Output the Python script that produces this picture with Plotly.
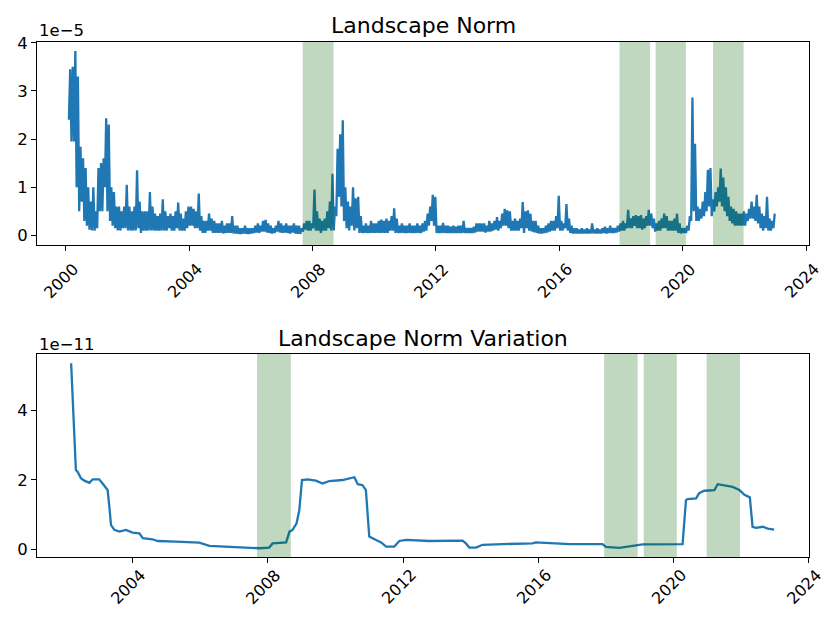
import plotly.graph_objects as go

# Landscape norm: monthly low / high envelope of the daily series, in units of 1e-5.
# First entry is Feb 2000, one entry per month up to Dec 2022.
NORM_START_YEAR = 2000
NORM_START_MONTH = 2
NORM_SCALE = 1e-5

NORM_LOW = [
    2.4, 1.95, 1.95, 1.0, 0.5, 0.7, 0.3, 0.2, 0.12, 0.1, 0.1,                  # 2000
    0.15, 0.5, 0.5, 1.0, 0.5, 0.3, 0.2, 0.15, 0.1, 0.1, 0.15, 0.15,            # 2001
    0.1, 0.1, 0.1, 0.1, 0.15, 0.05, 0.1, 0.1, 0.1, 0.1, 0.1, 0.1,              # 2002
    0.1, 0.1, 0.1, 0.1, 0.15, 0.1, 0.1, 0.15, 0.1, 0.1, 0.1, 0.15,             # 2003
    0.2, 0.2, 0.15, 0.15, 0.1, 0.05, 0.05, 0.1, 0.1, 0.05, 0.05, 0.05,         # 2004
    0.05, 0.04, 0.05, 0.05, 0.05, 0.04, 0.04, 0.03, 0.03, 0.04, 0.03, 0.03,    # 2005
    0.04, 0.05, 0.06, 0.05, 0.08, 0.08, 0.06, 0.05, 0.04, 0.05, 0.08, 0.06,    # 2006
    0.05, 0.06, 0.05, 0.04, 0.06, 0.04, 0.03, 0.03, 0.08, 0.12, 0.1, 0.1,      # 2007
    0.15, 0.1, 0.1, 0.05, 0.1, 0.1, 0.15, 0.1, 0.1, 0.4, 0.8, 0.6,             # 2008
    0.3, 0.15, 0.1, 0.2, 0.1, 0.15, 0.05, 0.05, 0.05, 0.05, 0.05, 0.05,        # 2009
    0.05, 0.05, 0.05, 0.05, 0.05, 0.05, 0.1, 0.1, 0.05, 0.05, 0.05, 0.05,      # 2010
    0.05, 0.05, 0.05, 0.05, 0.05, 0.05, 0.05, 0.08, 0.1, 0.2, 0.3, 0.2,        # 2011
    0.05, 0.05, 0.05, 0.05, 0.05, 0.05, 0.05, 0.05, 0.05, 0.05, 0.05, 0.05,    # 2012
    0.05, 0.05, 0.05, 0.06, 0.08, 0.08, 0.08, 0.06, 0.08, 0.08, 0.1, 0.12,     # 2013
    0.1, 0.15, 0.2, 0.2, 0.15, 0.1, 0.1, 0.1, 0.1, 0.15, 0.05, 0.15,           # 2014
    0.1, 0.08, 0.06, 0.05, 0.04, 0.04, 0.05, 0.06, 0.08, 0.1, 0.1, 0.15,       # 2015
    0.1, 0.1, 0.15, 0.1, 0.05, 0.04, 0.04, 0.04, 0.04, 0.04, 0.04, 0.04,       # 2016
    0.04, 0.04, 0.04, 0.04, 0.04, 0.05, 0.04, 0.05, 0.05, 0.05, 0.06, 0.08,    # 2017
    0.1, 0.1, 0.15, 0.15, 0.15, 0.2, 0.15, 0.15, 0.12, 0.15, 0.2, 0.2,         # 2018
    0.15, 0.08, 0.1, 0.1, 0.15, 0.15, 0.1, 0.1, 0.1, 0.1, 0.05, 0.04,          # 2019
    0.05, 0.05, 0.1, 0.3, 0.5, 0.3, 0.3, 0.35, 0.4, 0.5, 0.6, 0.4,             # 2020
    0.5, 0.6, 0.7, 0.6, 0.5, 0.4, 0.3, 0.25, 0.2, 0.2, 0.2, 0.2,               # 2021
    0.2, 0.3, 0.35, 0.35, 0.3, 0.25, 0.15, 0.1, 0.15, 0.1, 0.1, 0.15,          # 2022
]

NORM_HIGH = [
    3.45, 3.5, 3.83, 3.3, 1.84, 1.6, 1.4, 1.0, 0.7, 1.0, 0.5,                  # 2000
    1.4, 1.5, 1.6, 2.43, 2.3, 1.0, 0.9, 0.6, 0.6, 0.5, 0.6, 1.05,              # 2001
    0.6, 0.5, 0.6, 1.35, 0.7, 0.5, 0.5, 0.5, 0.9, 0.6, 0.45, 0.4,              # 2002
    0.45, 0.75, 0.5, 0.4, 0.45, 0.4, 0.5, 0.68, 0.45, 0.35, 0.5, 0.6,          # 2003
    0.6, 0.55, 0.5, 0.87, 0.4, 0.3, 0.3, 0.45, 0.35, 0.3, 0.25, 0.25,          # 2004
    0.3, 0.2, 0.25, 0.25, 0.4, 0.2, 0.2, 0.15, 0.15, 0.2, 0.15, 0.15,          # 2005
    0.15, 0.2, 0.25, 0.2, 0.3, 0.32, 0.25, 0.2, 0.15, 0.2, 0.3, 0.25,          # 2006
    0.2, 0.25, 0.2, 0.2, 0.25, 0.2, 0.2, 0.15, 0.25, 0.3, 0.3, 0.25,           # 2007
    0.95, 0.5, 0.35, 0.3, 0.35, 0.5, 0.7, 1.28, 0.6, 1.8, 2.1, 2.39,           # 2008
    1.0, 0.7, 0.6, 1.0, 0.77, 0.8, 0.4, 0.2, 0.25, 0.2, 0.3, 0.25,             # 2009
    0.25, 0.3, 0.33, 0.3, 0.35, 0.3, 0.4, 0.56, 0.35, 0.2, 0.25, 0.2,          # 2010
    0.2, 0.25, 0.2, 0.2, 0.25, 0.2, 0.25, 0.3, 0.45, 0.6, 0.84, 0.8,           # 2011
    0.2, 0.2, 0.26, 0.2, 0.2, 0.18, 0.2, 0.18, 0.2, 0.2, 0.3, 0.15,            # 2012
    0.15, 0.15, 0.18, 0.25, 0.25, 0.25, 0.25, 0.2, 0.3, 0.25, 0.3, 0.38,       # 2013
    0.3, 0.45, 0.55, 0.52, 0.5, 0.3, 0.35, 0.3, 0.35, 0.69, 0.5, 0.52,         # 2014
    0.45, 0.3, 0.3, 0.2, 0.15, 0.15, 0.2, 0.25, 0.3, 0.3, 0.4, 0.82,           # 2015
    0.3, 0.25, 0.65, 0.35, 0.2, 0.15, 0.15, 0.12, 0.15, 0.12, 0.15, 0.12,      # 2016
    0.25, 0.12, 0.15, 0.12, 0.15, 0.18, 0.15, 0.2, 0.15, 0.15, 0.2, 0.25,      # 2017
    0.3, 0.25, 0.53, 0.35, 0.4, 0.42, 0.4, 0.42, 0.35, 0.4, 0.53, 0.45,        # 2018
    0.35, 0.25, 0.3, 0.35, 0.45, 0.4, 0.3, 0.3, 0.35, 0.45, 0.25, 0.15,        # 2019
    0.15, 0.2, 0.4, 2.86, 1.9, 0.6, 0.55, 0.7, 0.9, 1.36, 1.4, 0.75,           # 2020
    0.9, 1.0, 1.39, 1.2, 1.0, 0.8, 0.6, 0.55, 0.5, 0.45, 0.45, 0.5,            # 2021
    0.45, 0.55, 0.7, 0.6, 0.84, 0.6, 0.45, 0.4, 0.8, 0.35, 0.3, 0.45,          # 2022
]

# Landscape norm variation (decimal year, value in units of 1e-11)
VAR_SCALE = 1e-11
VAR_YEARS = [
    2002.18, 2002.21, 2002.27, 2002.32, 2002.37, 2002.42, 2002.47, 2002.57,
    2002.72, 2002.82, 2003.01, 2003.11, 2003.26, 2003.31, 2003.36, 2003.46,
    2003.61, 2003.80, 2003.90, 2004.00, 2004.20, 2004.30, 2004.59, 2004.74,
    2005.28, 2005.78, 2005.97, 2006.27, 2006.76, 2007.25, 2007.75, 2008.04,
    2008.14, 2008.54, 2008.64, 2008.73, 2008.85, 2008.93, 2009.01, 2009.18,
    2009.42, 2009.62, 2009.82, 2010.21, 2010.56, 2010.66, 2010.80, 2010.90,
    2011.00, 2011.20, 2011.35, 2011.50, 2011.74, 2011.89, 2012.09, 2012.78,
    2013.76, 2013.86, 2013.96, 2014.16, 2014.35, 2014.95, 2015.83, 2015.93,
    2016.13, 2016.92, 2017.90, 2018.00, 2018.40, 2018.89, 2019.09, 2020.27,
    2020.37, 2020.42, 2020.67, 2020.76, 2020.91, 2021.21, 2021.31, 2021.75,
    2021.95, 2022.10, 2022.26, 2022.34, 2022.44, 2022.64, 2022.79, 2022.98,
]
VAR_VALUES = [
    5.37, 4.69, 3.35, 2.29, 2.24, 2.15, 2.05, 1.98,
    1.92, 2.02, 2.02, 1.90, 1.71, 1.23, 0.70, 0.56,
    0.51, 0.56, 0.51, 0.48, 0.46, 0.32, 0.29, 0.24,
    0.22, 0.20, 0.19, 0.10, 0.07, 0.05, 0.03, 0.05,
    0.17, 0.20, 0.51, 0.56, 0.75, 1.13, 2.00, 2.02,
    1.98, 1.90, 1.97, 2.00, 2.08, 1.88, 1.85, 1.71,
    0.37, 0.27, 0.20, 0.08, 0.08, 0.24, 0.27, 0.24,
    0.25, 0.17, 0.05, 0.05, 0.13, 0.15, 0.17, 0.20,
    0.19, 0.15, 0.15, 0.07, 0.04, 0.10, 0.14, 0.15,
    1.42, 1.45, 1.47, 1.62, 1.69, 1.71, 1.88, 1.80,
    1.71, 1.57, 1.50, 0.65, 0.62, 0.65, 0.60, 0.57,
]

# Shaded periods (decimal years)
PERIOD_START = [2007.68, 2017.95, 2019.12, 2020.98]
PERIOD_END = [2008.68, 2018.94, 2020.10, 2021.97]

TICK_YEARS = [2000, 2004, 2008, 2012, 2016, 2020, 2024]
NORM_YTICKS = [0, 1, 2, 3, 4]
VAR_YTICKS = [0, 2, 4]

assert len(NORM_LOW) == len(NORM_HIGH) == 11 + 22 * 12
assert len(VAR_YEARS) == len(VAR_VALUES)

# Expand the monthly envelope into a zig-zag trace (low then high within each month)
norm_x, norm_y = [], []
for i, (lo, hi) in enumerate(zip(NORM_LOW, NORM_HIGH)):
    month_index = NORM_START_MONTH - 1 + i
    base = NORM_START_YEAR + month_index / 12
    norm_x += [base + 0.25 / 12, base + 0.75 / 12]
    norm_y += [lo * NORM_SCALE, hi * NORM_SCALE]

var_y = [v * VAR_SCALE for v in VAR_VALUES]

BLUE = "#1f77b4"
BAND = "rgba(0,100,0,0.25)"
FONT = "DejaVu Sans"

fig = go.Figure()
fig.add_trace(go.Scatter(x=norm_x, y=norm_y, mode="lines",
                         line=dict(color=BLUE, width=2.3), xaxis="x", yaxis="y",
                         showlegend=False, hoverinfo="skip"))
fig.add_trace(go.Scatter(x=VAR_YEARS, y=var_y, mode="lines",
                         line=dict(color=BLUE, width=2.3), xaxis="x2", yaxis="y2",
                         showlegend=False, hoverinfo="skip"))

shapes = []
for xr, yr in (("x", "y domain"), ("x2", "y2 domain")):
    for s, e in zip(PERIOD_START, PERIOD_END):
        shapes.append(dict(type="rect", xref=xr, yref=yr, x0=s, x1=e, y0=0, y1=1,
                           fillcolor=BAND, line=dict(width=0), layer="above"))

axis_common = dict(showgrid=False, zeroline=False, showline=True, mirror=True,
                   linecolor="black", linewidth=1, ticks="outside", ticklen=5,
                   tickwidth=1, tickcolor="black",
                   tickfont=dict(family=FONT, size=16.5, color="black"))

TOP_DOMAIN = [0.6058, 1.0]
BOT_DOMAIN = [0.0, 0.3942]

annotations = []
# Rotated year labels centred under their ticks
for yr in TICK_YEARS:
    if 1999.07 <= yr <= 2024.09:
        annotations.append(dict(x=yr, xref="x", y=0.536, yref="paper", text=str(yr),
                                textangle=-45, showarrow=False, xanchor="center",
                                yanchor="middle", xshift=-4,
                                font=dict(family=FONT, size=16, color="black")))
    if 2001.17 <= yr <= 2024.01:
        annotations.append(dict(x=yr, xref="x2", y=-0.058, yref="paper", text=str(yr),
                                textangle=-45, showarrow=False, xanchor="center",
                                yanchor="middle", xshift=-4,
                                font=dict(family=FONT, size=16, color="black")))

# Titles and scale factors
annotations += [
    dict(x=0.5, xref="paper", y=1.033, yref="paper", text="Landscape Norm",
         showarrow=False, xanchor="center", yanchor="middle",
         font=dict(family=FONT, size=22, color="black")),
    dict(x=0.5, xref="paper", y=0.4252, yref="paper", text="Landscape Norm Variation",
         showarrow=False, xanchor="center", yanchor="middle",
         font=dict(family=FONT, size=22, color="black")),
    dict(x=0, xref="paper", y=1.0214, yref="paper", text="1e\u22125",
         showarrow=False, xanchor="left", yanchor="middle",
         font=dict(family=FONT, size=16.5, color="black")),
    dict(x=0, xref="paper", y=0.4117, yref="paper", text="1e\u221211",
         showarrow=False, xanchor="left", yanchor="middle",
         font=dict(family=FONT, size=16.5, color="black")),
]

fig.update_layout(
    width=826, height=617,
    margin=dict(l=37, r=17, t=42, b=60),
    paper_bgcolor="white", plot_bgcolor="white",
    font=dict(family=FONT, color="black"),
    xaxis=dict(domain=[0, 1], anchor="y", range=[1999.07, 2024.09],
               tickvals=TICK_YEARS, showticklabels=False, **axis_common),
    yaxis=dict(domain=TOP_DOMAIN, anchor="x", range=[-0.2 * NORM_SCALE, 4.015 * NORM_SCALE],
               tickvals=[v * NORM_SCALE for v in NORM_YTICKS],
               ticktext=[str(v) for v in NORM_YTICKS], **axis_common),
    xaxis2=dict(domain=[0, 1], anchor="y2", range=[2001.17, 2024.01],
                tickvals=TICK_YEARS, showticklabels=False, **axis_common),
    yaxis2=dict(domain=BOT_DOMAIN, anchor="x2", range=[-0.222 * VAR_SCALE, 5.636 * VAR_SCALE],
                tickvals=[v * VAR_SCALE for v in VAR_YTICKS],
                ticktext=[str(v) for v in VAR_YTICKS], **axis_common),
    shapes=shapes,
    annotations=annotations,
)

fig.write_html("out.html")
